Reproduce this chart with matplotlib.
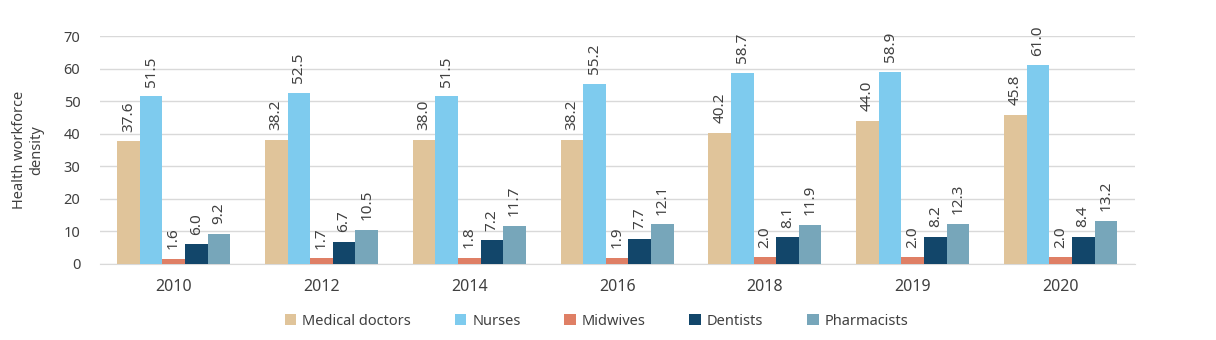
import numpy as np
import matplotlib.pyplot as plt

years = ["2010", "2012", "2014", "2016", "2018", "2019", "2020"]
series = ["Medical doctors", "Nurses", "Midwives", "Dentists", "Pharmacists"]
doctors = [37.6, 38.2, 38.0, 38.2, 40.2, 44.0, 45.8]
nurses = [51.5, 52.5, 51.5, 55.2, 58.7, 58.9, 61.0]
midwives = [1.6, 1.7, 1.8, 1.9, 2.0, 2.0, 2.0]
dentists = [6.0, 6.7, 7.2, 7.7, 8.1, 8.2, 8.4]
pharmacists = [9.2, 10.5, 11.7, 12.1, 11.9, 12.3, 13.2]
colors = ["#E0C49A", "#7ECBEE", "#DF7F65", "#12466A", "#77A6BA"]

plt.rcParams['font.family'] = ['Noto Sans', 'DejaVu Sans']
text_color = "#404040"

fig = plt.figure(figsize=(12.16, 3.4), dpi=100)
ax = fig.add_axes([0.082, 0.224, 0.851, 0.67])

x = np.arange(len(years))
width = 0.153
for i, (name, vals) in enumerate(zip(series, [doctors, nurses, midwives, dentists, pharmacists])):
    pos = x + (i - 2) * width
    ax.bar(pos, vals, width, color=colors[i], label=name, zorder=3)
    for xp, v in zip(pos, vals):
        ax.annotate(f"{v:.1f}", (xp, v), xytext=(0, 7), textcoords="offset points",
                    rotation=90, ha="center", va="bottom", fontsize=11,
                    color=text_color)

ax.set_xlim(-0.5, 6.5)
ax.set_ylim(0, 70)
ax.set_yticks(range(0, 71, 10))
ax.set_xticks(x)
ax.set_xticklabels(years)
ax.yaxis.grid(True, color="#D9D9D9", linewidth=1, zorder=0)
for s in ["top", "right", "left"]:
    ax.spines[s].set_visible(False)
ax.spines["bottom"].set_color("#D9D9D9")
ax.tick_params(length=0, labelsize=10.5, colors=text_color)
ax.tick_params(axis="x", labelsize=11.5, pad=11)
ax.tick_params(axis="y", pad=14)
ax.set_ylabel("Health workforce\ndensity", fontsize=10.5, color=text_color, labelpad=14)

fig.legend(loc="center", bbox_to_anchor=(0.4905, 0.055), ncol=5, frameon=False,
           fontsize=10.5, handlelength=0.8, handleheight=0.8, columnspacing=3.0,
           handletextpad=0.4, labelcolor=text_color)

fig.savefig("out.png", dpi=100)
